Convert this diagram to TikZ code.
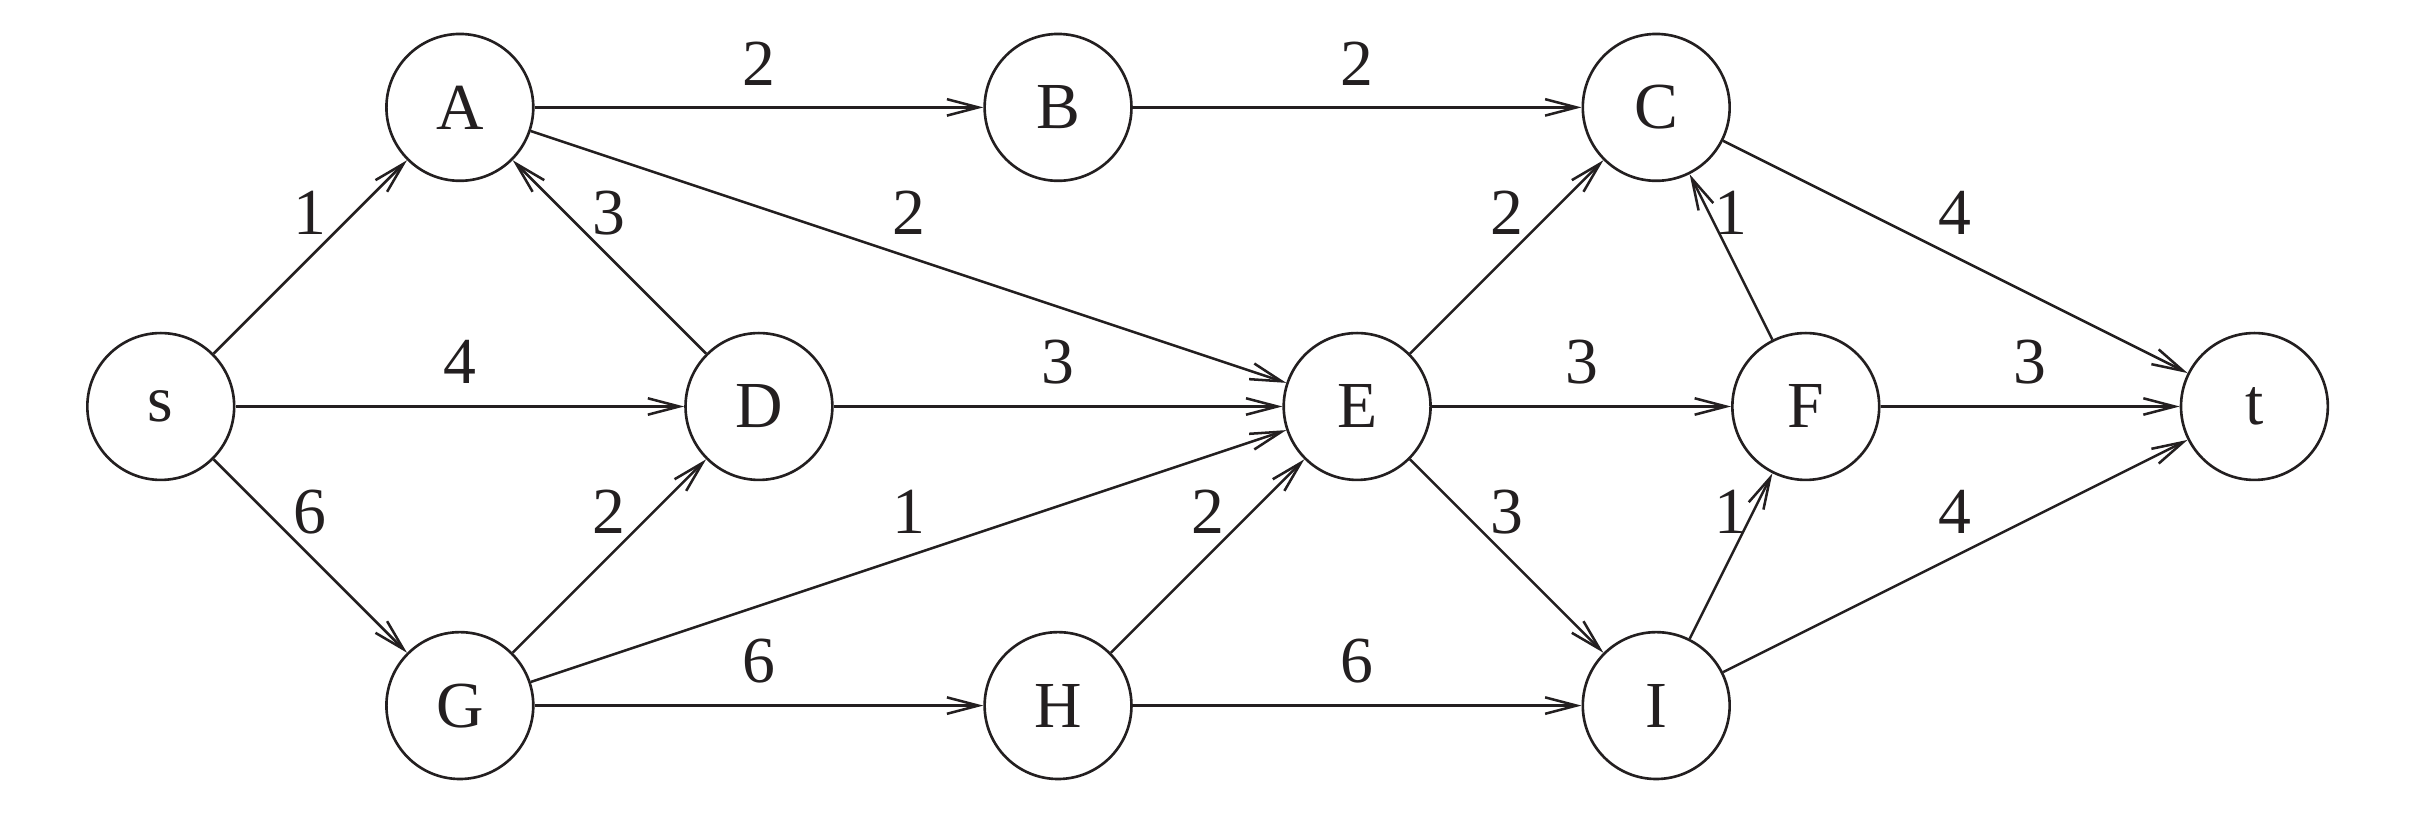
\documentclass[tikz,border=0pt]{standalone}
\usepackage{fontspec}
\setmainfont{Liberation Serif}
\usetikzlibrary{arrows.meta}
\definecolor{ink}{HTML}{231F20}
\begin{document}
\begin{tikzpicture}[
  x=2cm, y=2cm,
  vert/.style={circle, draw=ink, text=ink, line width=0.5pt, minimum size=0.982cm, inner sep=0pt, font=\fontsize{12.5}{14}\selectfont},
  edge/.style={draw=ink, line width=0.48pt, -{Straight Barb[length=2.1mm, width=1.1mm, line width=0.48pt]}},
  wlab/.style={inner sep=0pt, anchor=center, yshift=0.295cm, text=ink, font=\fontsize{12.5}{14}\selectfont}
]
\useasboundingbox (-1.075cm,-2.799cm) rectangle (15.087cm,2.718cm);
\node[vert] (s) at (0,0) {s};
\node[vert] (A) at (1,1) {A};
\node[vert] (G) at (1,-1) {G};
\node[vert] (D) at (2,0) {D};
\node[vert] (B) at (3,1) {B};
\node[vert] (H) at (3,-1) {H};
\node[vert] (E) at (4,0) {E};
\node[vert] (C) at (5,1) {C};
\node[vert] (I) at (5,-1) {I};
\node[vert] (F) at (5.5,0) {F};
\node[vert] (t) at (7,0) {t};

\path[edge] (s) -- node[wlab] {1} (A);
\path[edge] (s) -- node[wlab] {4} (D);
\path[edge] (s) -- node[wlab] {6} (G);
\path[edge] (D) -- node[wlab] {3} (A);
\path[edge] (G) -- node[wlab] {2} (D);
\path[edge] (A) -- node[wlab] {2} (B);
\path[edge] (A) -- node[wlab] {2} (E);
\path[edge] (G) -- node[wlab] {1} (E);
\path[edge] (G) -- node[wlab] {6} (H);
\path[edge] (D) -- node[wlab] {3} (E);
\path[edge] (B) -- node[wlab] {2} (C);
\path[edge] (H) -- node[wlab] {2} (E);
\path[edge] (H) -- node[wlab] {6} (I);
\path[edge] (E) -- node[wlab] {2} (C);
\path[edge] (E) -- node[wlab] {3} (F);
\path[edge] (E) -- node[wlab] {3} (I);
\path[edge] (F) -- node[wlab] {1} (C);
\path[edge] (I) -- node[wlab] {1} (F);
\path[edge] (C) -- node[wlab] {4} (t);
\path[edge] (F) -- node[wlab] {3} (t);
\path[edge] (I) -- node[wlab] {4} (t);
\end{tikzpicture}
\end{document}
